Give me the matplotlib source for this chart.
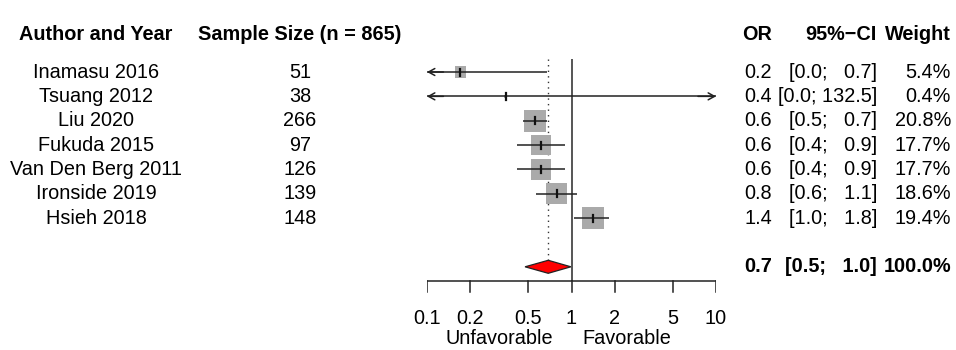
import numpy as np
import matplotlib
matplotlib.use("Agg")
import matplotlib.pyplot as plt
from matplotlib.patches import Polygon

# ---- data ----
studies = ["Inamasu 2016", "Tsuang 2012", "Liu 2020", "Fukuda 2015",
           "Van Den Berg 2011", "Ironside 2019", "Hsieh 2018"]
sample_size = [51, 38, 266, 97, 126, 139, 148]
or_est = [0.17, 0.35, 0.56, 0.615, 0.615, 0.79, 1.41]
ci_low = [0.03, 0.001, 0.46, 0.42, 0.42, 0.57, 1.04]
ci_high = [0.68, 132.5, 0.68, 0.90, 0.90, 1.09, 1.82]
weights = [5.4, 0.4, 20.8, 17.7, 17.7, 18.6, 19.4]
or_text = ["0.2", "0.4", "0.6", "0.6", "0.6", "0.8", "1.4"]
ci_text = ["[0.0;   0.7]", "[0.0; 132.5]", "[0.5;   0.7]", "[0.4;   0.9]",
           "[0.4;   0.9]", "[0.6;   1.1]", "[1.0;   1.8]"]
weight_text = ["5.4%", "0.4%", "20.8%", "17.7%", "17.7%", "18.6%", "19.4%"]
pooled = 0.69
pooled_low = 0.477
pooled_high = 0.99
pooled_text = ("0.7", "[0.5;   1.0]", "100.0%")
total_n = 865
xticks = [0.1, 0.2, 0.5, 1, 2, 5, 10]
xtick_labels = ["0.1", "0.2", "0.5", "1", "2", "5", "10"]

W, H = 956, 350
FS = 14.3
plt.rcParams['font.family'] = ['Liberation Sans', 'DejaVu Sans']

fig = plt.figure(figsize=(W / 100, H / 100), dpi=100)
# text axes in pixel coordinates
tax = fig.add_axes([0, 0, 1, 1])
tax.set_xlim(0, W)
tax.set_ylim(H, 0)
tax.axis("off")

# forest axes: x from 427 to 716 px (log 0.1..10), y in pixel coordinates
x0, x1 = 427, 716
fax = fig.add_axes([x0 / W, 0, (x1 - x0) / W, 1])
fax.set_xscale("log")
fax.set_xlim(0.1, 10)
fax.set_ylim(H, 0)
fax.axis("off")
fax.patch.set_alpha(0)

row0, dy = 72, 24.35
rows = [row0 + dy * i for i in range(len(studies))]
ysum = row0 + dy * 8
yhead = 35

# headers
tax.text(96, yhead, "Author and Year", ha="center", va="center", fontsize=FS, fontweight="bold")
tax.text(300, yhead, f"Sample Size (n = {total_n})", ha="center", va="center", fontsize=FS, fontweight="bold")
tax.text(772, yhead, "OR", ha="right", va="center", fontsize=FS, fontweight="bold")
tax.text(877, yhead, "95%\u2212CI", ha="right", va="center", fontsize=FS, fontweight="bold")
tax.text(951, yhead, "Weight", ha="right", va="center", fontsize=FS, fontweight="bold")

for i, y in enumerate(rows):
    tax.text(96, y, studies[i], ha="center", va="center", fontsize=FS)
    tax.text(300, y, str(sample_size[i]), ha="center", va="center", fontsize=FS)
    tax.text(772, y, or_text[i], ha="right", va="center", fontsize=FS)
    tax.text(877, y, ci_text[i], ha="right", va="center", fontsize=FS)
    tax.text(951, y, weight_text[i], ha="right", va="center", fontsize=FS)

tax.text(772, ysum, pooled_text[0], ha="right", va="center", fontsize=FS, fontweight="bold")
tax.text(877, ysum, pooled_text[1], ha="right", va="center", fontsize=FS, fontweight="bold")
tax.text(951, ysum, pooled_text[2], ha="right", va="center", fontsize=FS, fontweight="bold")

# reference lines
ytop = 59
yaxis = 281
fax.plot([1, 1], [ytop, yaxis], color="#555555", lw=1.4, solid_capstyle="butt", zorder=1)
fax.plot([pooled, pooled], [ytop, ysum - 6], color="#333333", lw=1.0, ls=(0, (1, 3)), zorder=1)

# studies
max_side = 22.0
for i, y in enumerate(rows):
    side = max_side * np.sqrt(weights[i] / max(weights))
    s_pt = side * 0.72
    fax.scatter([or_est[i]], [y], marker="s", s=s_pt ** 2, color="#aaaaaa",
                edgecolors="none", zorder=2)
    lo = max(ci_low[i], 0.1)
    hi = min(ci_high[i], 10)
    fax.plot([lo, hi], [y, y], color="#222222", lw=1.1, zorder=3, solid_capstyle="butt")
    if ci_low[i] < 0.1:
        fax.annotate("", xy=(0.1, y), xytext=(0.13, y),
                     arrowprops=dict(arrowstyle="->,head_length=0.45,head_width=0.25",
                                     color="#222222", lw=1.1, shrinkA=0, shrinkB=0), zorder=3)
    if ci_high[i] > 10:
        fax.annotate("", xy=(10, y), xytext=(7.5, y),
                     arrowprops=dict(arrowstyle="->,head_length=0.45,head_width=0.25",
                                     color="#222222", lw=1.1, shrinkA=0, shrinkB=0), zorder=3)
    fax.plot([or_est[i], or_est[i]], [y - 3.5, y + 3.5], color="#111111", lw=1.6, zorder=4)

# pooled diamond
dh = 6.5
diamond = Polygon([[pooled_low, ysum], [pooled, ysum - dh], [pooled_high, ysum], [pooled, ysum + dh]],
                  closed=True, facecolor="#ff0000", edgecolor="#222222", lw=0.9, zorder=5)
fax.add_patch(diamond)

# x axis
fax.plot([0.1, 10], [yaxis, yaxis], color="#222222", lw=1.1, zorder=1)
for t, lab in zip(xticks, xtick_labels):
    fax.plot([t, t], [yaxis, yaxis + 11], color="#222222", lw=1.1)
    fax.text(t, 318, lab, ha="center", va="center", fontsize=FS)

tax.text(553, 338, "Unfavorable", ha="right", va="center", fontsize=FS)
tax.text(582, 338, "Favorable", ha="left", va="center", fontsize=FS)

fig.savefig("out.png", dpi=100)
